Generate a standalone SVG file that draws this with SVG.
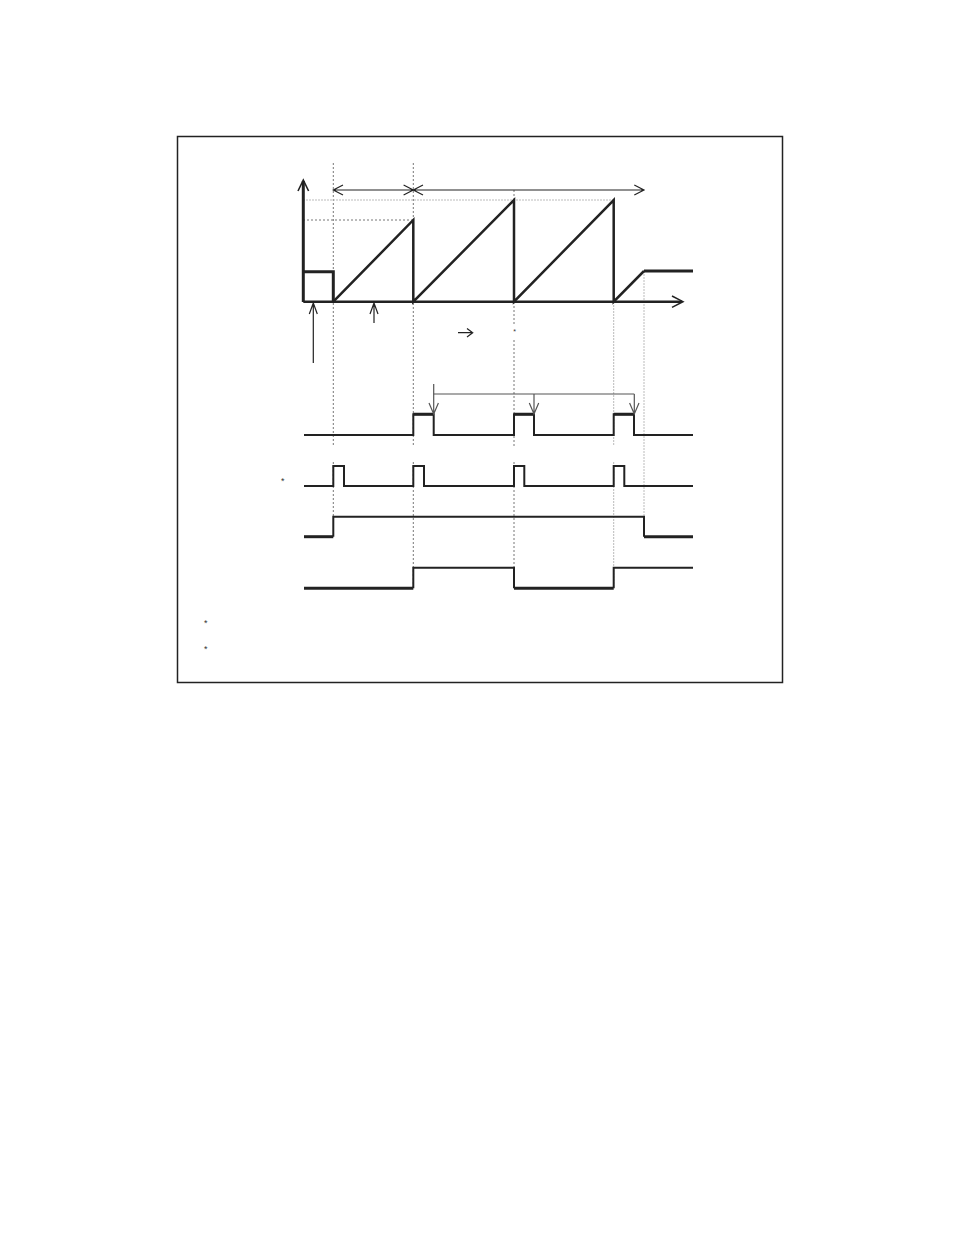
<svg xmlns="http://www.w3.org/2000/svg" width="954" height="1235" viewBox="0 0 954 1235">
<style>
.frame{fill:none;stroke:#222;stroke-width:1.5}
.sig{fill:none;stroke:#222;stroke-width:2;stroke-linejoin:miter}
.thick{fill:none;stroke:#222;stroke-width:3}
.guide{fill:none;stroke:#777;stroke-width:1;stroke-dasharray:2,2}
.lguide{fill:none;stroke:#bbb;stroke-width:1;stroke-dasharray:2,1}
.arr{fill:none;stroke:#222;stroke-width:1.2}
.garr{fill:none;stroke:#555;stroke-width:1.2}
.star{font-family:"Liberation Sans",sans-serif;font-size:9px;fill:#333}
</style>
<rect width="954" height="1235" fill="#fff"/>
<rect class="frame" x="177.5" y="136.5" width="605" height="546"/>
<g id="guides">
<line class="guide" x1="333.3" y1="163" x2="333.3" y2="446"/>
<line class="guide" x1="333.3" y1="462" x2="333.3" y2="518"/>
<line class="guide" x1="413.3" y1="163" x2="413.3" y2="446"/>
<line class="guide" x1="413.3" y1="462" x2="413.3" y2="588"/>
<line class="guide" x1="514" y1="190" x2="514" y2="325"/>
<line class="guide" x1="514" y1="340" x2="514" y2="446"/>
<line class="guide" x1="514" y1="462" x2="514" y2="588"/>
<line class="lguide" x1="613.7" y1="200" x2="613.7" y2="446"/>
<line class="lguide" x1="613.7" y1="462" x2="613.7" y2="588"/>
<line class="lguide" x1="644" y1="271" x2="644" y2="537"/>
<line class="lguide" x1="303" y1="200" x2="613.7" y2="200"/>
<line class="guide" x1="303" y1="220" x2="413.3" y2="220"/>
</g>
<g id="axes">
<path class="thick" d="M303.3,302 V181"/>
<path class="arr" d="M298,191 L303.3,180 L308.6,191" style="stroke-width:1.6"/>
<path class="thick" d="M303.3,301.7 H682" style="stroke-width:2.5"/>
<path class="arr" d="M672,296 L683,301.7 L672,307.4" style="stroke-width:1.5"/>
</g>
<g id="ramp">
<path class="thick" d="M303.3,271.7 H333.3 V301.7"/>
<path class="sig" style="stroke-width:2.5" d="M333.3,301.7 L413.3,220 V301.7 L514,200 V301.7 L613.7,200 V301.7 L644,271"/>
<path class="thick" d="M644,271 H693"/>
</g>
<g id="dims">
<path class="arr" d="M333.3,190 H413.3 M343,185 L333.3,190 L343,195 M403.6,185 L413.3,190 L403.6,195"/>
<path class="arr" d="M413.3,190 H644 M423,185 L413.3,190 L423,195 M634.3,185 L644,190 L634.3,195"/>
<path class="arr" d="M313.3,363 V303 M309.3,314 L313.3,303 L317.3,314"/>
<path class="arr" d="M374,323 V303 M370,314 L374,303 L378,314"/>
<path class="arr" d="M458,332.7 H472.7 M467,328.5 L472.7,332.7 L467,336.9"/>
</g>
<g id="signal1">
<path class="sig" d="M304,435 H413.3 V414.3 H433.7 V435 H514 V414.3 H534 V435 H613.7 V414.3 H634 V435 H693"/>
<path class="thick" d="M413.3,414.3 H433.7 M514,414.3 H534 M613.7,414.3 H634"/>
<path class="garr" d="M433.7,384 V414 M429,403 L433.7,414 L438.4,403"/>
<path class="garr" d="M433.7,394 H634.3 M534,394 V414 M529.3,403 L534,414 L538.7,403 M634.3,394 V414 M629.6,403 L634.3,414 L639,403"/>
</g>
<g id="signal2">
<path class="sig" d="M304,486 H333.3 V466 H344 V486 H413.3 V466 H424 V486 H514 V466 H524.3 V486 H613.7 V466 H624.3 V486 H693"/>
</g>
<g id="signal3">
<path class="thick" d="M304,536.7 H333.3"/>
<path class="sig" d="M333.3,536.7 V516.7 H644 V536.7"/>
<path class="thick" d="M644,536.7 H693"/>
</g>
<g id="signal4">
<path class="thick" d="M304,588.3 H413.3"/>
<path class="sig" d="M413.3,588.3 V567.7 H514 V588.3"/>
<path class="thick" d="M514,588.3 H613.7"/>
<path class="sig" d="M613.7,588.3 V567.7 H693"/>
</g>
<g id="marks">
<text class="star" x="514.5" y="334" text-anchor="middle" style="font-size:7px">*</text>
<text class="star" x="282.7" y="484" text-anchor="middle">*</text>
<text class="star" x="205.7" y="626" text-anchor="middle">*</text>
<text class="star" x="205.7" y="652" text-anchor="middle">*</text>
</g>
</svg>
